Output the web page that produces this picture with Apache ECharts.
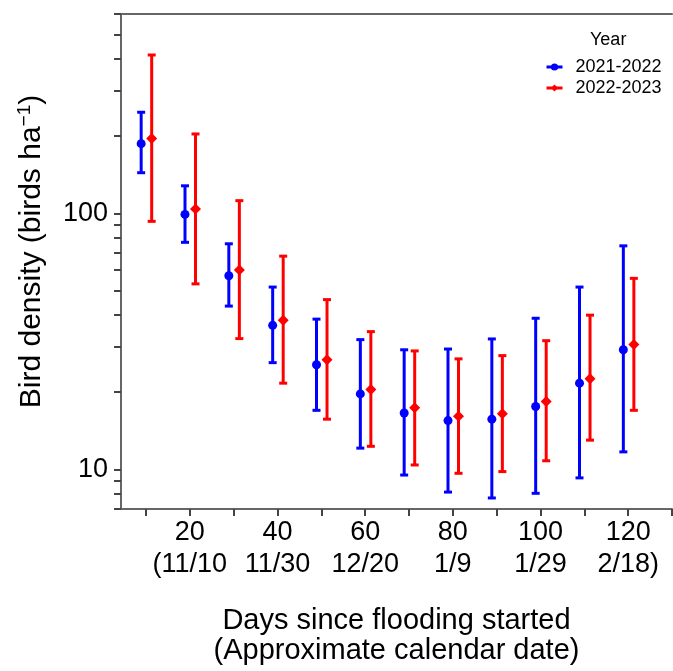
<!DOCTYPE html>
<html>
<head>
<meta charset="utf-8">
<style>
  html, body { margin: 0; padding: 0; background: #fff; }
  #chart { width: 673px; height: 671px; }
</style>
<script src="https://cdn.jsdelivr.net/npm/echarts@6/dist/echarts.min.js"></script>
</head>
<body>
<div id="chart"></div>
<script>
// days since flooding started
var days = [10, 20, 30, 40, 50, 60, 70, 80, 90, 100, 110, 120];

// 2021-2022 (blue)
var blueMean = [187, 99, 57, 36.5, 25.6, 19.7, 16.6, 15.5, 15.7, 17.6, 21.7, 29.3];
var blueLow  = [144, 77, 43.4, 26.1, 17.0, 12.1, 9.5, 8.15, 7.73, 8.06, 9.26, 11.7];
var blueHigh = [248, 128, 76, 51.5, 38.6, 32.1, 29.3, 29.5, 32.3, 38.9, 51.5, 74.6];

// 2022-2023 (red)
var redMean = [196, 104, 60, 38.2, 26.8, 20.5, 17.4, 16.1, 16.5, 18.4, 22.6, 30.7];
var redLow  = [93, 53, 32.4, 21.7, 15.7, 12.3, 10.4, 9.65, 9.8, 10.8, 13.0, 17.0];
var redHigh = [415, 204, 112, 68, 46, 34.5, 29.0, 27.0, 27.8, 31.8, 40.0, 55.7];

// axis ticks and labels
var xTickDays = [10, 20, 30, 40, 50, 60, 70, 80, 90, 100, 110, 120, 130];
var xLabelDays = [20, 40, 60, 80, 100, 120];
var xLabelDates = ['(11/10', '11/30', '12/20', '1/9', '1/29', '2/18)'];
var yTickValues = [7, 8, 9, 10, 20, 30, 40, 50, 60, 70, 80, 90, 100, 200, 300, 400, 500, 600];
var yLabelValues = [10, 100];

var FONT = 'Liberation Sans, Arial, sans-serif';
var BLUE = '#0000ff', RED = '#ff0000';
var blueShift = -1.1, redShift = 1.3;   // dodge of the two years

function points(mean, shift) {
    return days.map(function (d, i) { return [d + shift, mean[i]]; });
}
function bars(low, high, shift) {
    return days.map(function (d, i) { return [d + shift, low[i], high[i]]; });
}

function errorBar(color) {
    return function (params, api) {
        var x = api.value(0);
        var top = api.coord([x, api.value(2)]);
        var bot = api.coord([x, api.value(1)]);
        var half = 4;
        var st = { stroke: color, lineWidth: 3 };
        return {
            type: 'group',
            children: [
                { type: 'line', shape: { x1: top[0], y1: top[1], x2: bot[0], y2: bot[1] }, style: st },
                { type: 'line', shape: { x1: top[0] - half, y1: top[1], x2: top[0] + half, y2: top[1] }, style: st },
                { type: 'line', shape: { x1: bot[0] - half, y1: bot[1], x2: bot[0] + half, y2: bot[1] }, style: st }
            ]
        };
    };
}

var myChart = echarts.init(document.getElementById('chart'));
myChart.setOption({
    animation: false,
    backgroundColor: '#fff',
    textStyle: { fontFamily: FONT },
    grid: { left: 121, right: 1, top: 14, bottom: 156 },
    graphic: [{
        type: 'text',
        left: 590, top: 31,
        style: { text: 'Year', fontSize: 18, fontFamily: FONT, fill: '#000' }
    }],
    legend: {
        data: ['2021-2022', '2022-2023'],
        orient: 'vertical',
        left: 545, top: 58,
        padding: 0,
        itemWidth: 16, itemHeight: 9, itemGap: 3,
        lineStyle: { width: 3 },
        textStyle: { fontSize: 18, fontFamily: FONT, color: '#000', padding: [0, 0, 0, 8] }
    },
    xAxis: [{
        type: 'value',
        min: 4.3, max: 130,
        name: 'Days since flooding started\n(Approximate calendar date)',
        nameLocation: 'middle',
        nameGap: 97,
        nameTextStyle: { fontSize: 29, lineHeight: 30, color: '#000', fontFamily: FONT },
        axisLine: { lineStyle: { color: '#666', width: 2 } },
        axisTick: { show: true, customValues: xTickDays, length: 7, lineStyle: { color: '#444', width: 2 } },
        axisLabel: {
            customValues: xLabelDays,
            margin: 8,
            fontSize: 27, lineHeight: 32, color: '#000', fontFamily: FONT,
            formatter: function (v) {
                var i = xLabelDays.indexOf(v);
                return v + '\n' + xLabelDates[i];
            }
        },
        splitLine: { show: false }
    }, {
        type: 'value',
        position: 'top',
        min: 4.3, max: 130,
        axisLine: { show: true, onZero: false, lineStyle: { color: '#666', width: 2 } },
        axisTick: { show: false },
        axisLabel: { show: false },
        splitLine: { show: false }
    }],
    yAxis: {
        type: 'log',
        logBase: 10,
        min: 7, max: 600,
        name: '{a|Bird density (birds ha}{s|\u22121}{a|)}',
        nameLocation: 'middle',
        nameRotate: 90,
        nameGap: 72,
        nameTextStyle: {
            color: '#000',
            padding: [0, 0, 0, 20],
            rich: {
                a: { fontSize: 30, lineHeight: 34, fontFamily: FONT, color: '#000' },
                s: { fontSize: 19, lineHeight: 34, verticalAlign: 'top', fontFamily: FONT, color: '#000' }
            }
        },
        axisLine: { show: true, lineStyle: { color: '#666', width: 2 } },
        axisTick: { show: true, customValues: yTickValues, length: 7, lineStyle: { color: '#444', width: 2 } },
        axisLabel: { customValues: yLabelValues, margin: 13, fontSize: 27, color: '#000', fontFamily: FONT },
        minorTick: { show: false },
        splitLine: { show: false }
    },
    series: [
        {
            type: 'custom',
            name: 'bars21',
            renderItem: errorBar(BLUE),
            encode: { x: 0, y: [1, 2] },
            data: bars(blueLow, blueHigh, blueShift),
            z: 2
        },
        {
            type: 'custom',
            name: 'bars22',
            renderItem: errorBar(RED),
            encode: { x: 0, y: [1, 2] },
            data: bars(redLow, redHigh, redShift),
            z: 2
        },
        {
            type: 'line',
            name: '2021-2022',
            data: points(blueMean, blueShift),
            symbol: 'circle',
            symbolSize: 9,
            showSymbol: true,
            itemStyle: { color: BLUE },
            lineStyle: { width: 0, color: BLUE },
            z: 3
        },
        {
            type: 'line',
            name: '2022-2023',
            data: points(redMean, redShift),
            symbol: 'diamond',
            symbolSize: 11,
            showSymbol: true,
            itemStyle: { color: RED },
            lineStyle: { width: 0, color: RED },
            z: 3
        }
    ]
});
</script>
</body>
</html>
